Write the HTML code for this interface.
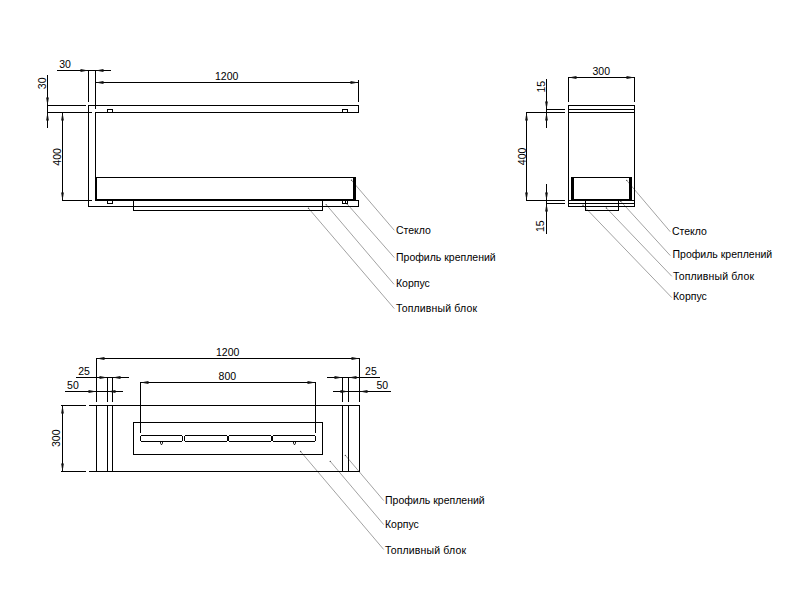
<!DOCTYPE html>
<html><head><meta charset="utf-8"><style>
html,body{margin:0;padding:0;background:#fff;}
svg{display:block;}
rect,circle,polygon{fill:#000;}
rect{shape-rendering:crispEdges;}
rect.slot{fill:none;stroke:#000;stroke-width:1;shape-rendering:auto;}
polygon.a{fill:#111;}
path.mk{fill:none;stroke:#000;stroke-width:0.9;}
line.ld{stroke:#8a8a8a;stroke-width:0.8;}
circle.dot{fill:#555;}
text{font-family:"Liberation Sans",sans-serif;font-size:10.5px;fill:#000;}
</style></head><body>
<svg width="808" height="606" viewBox="0 0 808 606">
<rect x="0" y="0" width="808" height="606" style="fill:#fff"/>
<line class="ld" x1="351.5" y1="180.3" x2="394.3" y2="230.3"/>
<circle class="dot" cx="351.5" cy="180.3" r="0.7"/>
<line class="ld" x1="347.2" y1="204" x2="394.3" y2="257.6"/>
<circle class="dot" cx="347.2" cy="204" r="0.7"/>
<line class="ld" x1="326.2" y1="204.6" x2="394" y2="284.3"/>
<circle class="dot" cx="326.2" cy="204.6" r="0.7"/>
<line class="ld" x1="308.5" y1="208.3" x2="394.3" y2="308.6"/>
<circle class="dot" cx="308.5" cy="208.3" r="0.7"/>
<line class="ld" x1="626.7" y1="180.4" x2="670.3" y2="231.8"/>
<circle class="dot" cx="626.7" cy="180.4" r="0.7"/>
<line class="ld" x1="620.8" y1="201.4" x2="670.3" y2="255.6"/>
<circle class="dot" cx="620.8" cy="201.4" r="0.7"/>
<line class="ld" x1="606.4" y1="208.0" x2="671.8" y2="276.3"/>
<circle class="dot" cx="606.4" cy="208.0" r="0.7"/>
<line class="ld" x1="583" y1="205.3" x2="671.8" y2="297.6"/>
<circle class="dot" cx="583" cy="205.3" r="0.7"/>
<line class="ld" x1="345.4" y1="455.4" x2="383.7" y2="500.6"/>
<circle class="dot" cx="345.4" cy="455.4" r="0.7"/>
<line class="ld" x1="330.3" y1="461.4" x2="383.7" y2="524.6"/>
<circle class="dot" cx="330.3" cy="461.4" r="0.7"/>
<line class="ld" x1="300.6" y1="451.5" x2="383.7" y2="549.5"/>
<circle class="dot" cx="300.6" cy="451.5" r="0.7"/>
<rect x="57" y="70" width="54" height="1"/>
<polygon class="a" points="88.50,70.50 80.50,69.10 80.50,71.90"/>
<polygon class="a" points="95.50,70.50 103.50,69.10 103.50,71.90"/>
<rect x="88" y="70" width="1" height="32"/>
<rect x="95" y="70" width="1" height="39"/>
<rect x="47" y="75" width="1" height="53"/>
<polygon class="a" points="47.50,105.50 46.10,97.50 48.90,97.50"/>
<polygon class="a" points="47.50,112.50 46.10,120.50 48.90,120.50"/>
<rect x="47" y="105" width="39" height="1"/>
<rect x="47" y="112" width="45" height="1"/>
<rect x="95" y="82" width="264" height="1"/>
<polygon class="a" points="95.50,82.50 103.50,81.10 103.50,83.90"/>
<polygon class="a" points="358.50,82.50 350.50,81.10 350.50,83.90"/>
<rect x="358" y="80" width="1" height="22"/>
<rect x="62" y="112" width="1" height="89"/>
<polygon class="a" points="62.50,112.50 61.10,120.50 63.90,120.50"/>
<polygon class="a" points="62.50,200.50 61.10,192.50 63.90,192.50"/>
<rect x="62" y="200" width="30" height="1"/>
<rect x="88" y="105" width="271" height="1"/>
<rect x="88" y="105" width="1" height="102"/>
<rect x="358" y="105" width="1" height="8"/>
<rect x="95" y="112" width="264" height="1"/>
<rect x="95" y="112" width="1" height="89"/>
<rect x="95" y="200" width="264" height="1"/>
<rect x="88" y="206" width="271" height="1"/>
<rect x="358" y="200" width="1" height="7"/>
<rect x="107" y="109" width="6" height="1"/>
<rect x="107" y="109" width="1" height="4"/>
<rect x="112" y="109" width="1" height="4"/>
<rect x="107" y="200" width="1" height="4"/>
<rect x="112" y="200" width="1" height="4"/>
<rect x="107" y="203" width="6" height="1"/>
<rect x="342" y="109" width="6" height="1"/>
<rect x="342" y="109" width="1" height="4"/>
<rect x="347" y="109" width="1" height="4"/>
<rect x="342" y="200" width="1" height="4"/>
<rect x="347" y="200" width="1" height="4"/>
<rect x="342" y="203" width="6" height="1"/>
<rect x="345" y="200" width="1" height="4"/>
<rect x="95" y="177" width="261" height="1"/>
<rect x="95" y="177" width="2" height="24"/>
<rect x="353" y="177" width="3" height="24"/>
<rect x="95" y="199" width="261" height="2"/>
<rect x="133" y="200" width="1" height="11"/>
<rect x="322" y="200" width="1" height="11"/>
<rect x="133" y="210" width="190" height="1"/>
<rect x="568" y="77" width="67" height="1"/>
<polygon class="a" points="568.50,77.50 576.50,76.10 576.50,78.90"/>
<polygon class="a" points="634.50,77.50 626.50,76.10 626.50,78.90"/>
<rect x="568" y="77" width="1" height="25"/>
<rect x="634" y="77" width="1" height="25"/>
<rect x="568" y="105" width="67" height="1"/>
<rect x="568" y="109" width="67" height="1"/>
<rect x="568" y="112" width="67" height="1"/>
<rect x="568" y="105" width="1" height="102"/>
<rect x="634" y="105" width="1" height="102"/>
<rect x="568" y="200" width="67" height="1"/>
<rect x="568" y="203" width="67" height="1"/>
<rect x="568" y="206" width="67" height="1"/>
<rect x="546" y="79" width="1" height="49"/>
<polygon class="a" points="546.50,109.50 545.10,101.50 547.90,101.50"/>
<polygon class="a" points="546.50,112.50 545.10,120.50 547.90,120.50"/>
<rect x="546" y="109" width="19" height="1"/>
<rect x="526" y="112" width="39" height="1"/>
<rect x="526" y="112" width="1" height="89"/>
<polygon class="a" points="526.50,112.50 525.10,120.50 527.90,120.50"/>
<polygon class="a" points="526.50,200.50 525.10,192.50 527.90,192.50"/>
<rect x="526" y="200" width="39" height="1"/>
<rect x="546" y="203" width="19" height="1"/>
<rect x="546" y="184" width="1" height="50"/>
<polygon class="a" points="546.50,200.50 545.10,192.50 547.90,192.50"/>
<polygon class="a" points="546.50,203.50 545.10,211.50 547.90,211.50"/>
<rect x="571" y="177" width="61" height="1"/>
<rect x="571" y="177" width="3" height="24"/>
<rect x="629" y="177" width="3" height="24"/>
<rect x="571" y="199" width="61" height="2"/>
<rect x="585" y="200" width="1" height="11"/>
<rect x="618" y="200" width="1" height="11"/>
<rect x="585" y="210" width="34" height="1"/>
<rect x="96" y="358" width="264" height="1"/>
<polygon class="a" points="96.50,358.50 104.50,357.10 104.50,359.90"/>
<polygon class="a" points="359.50,358.50 351.50,357.10 351.50,359.90"/>
<rect x="96" y="358" width="1" height="44"/>
<rect x="359" y="358" width="1" height="44"/>
<rect x="107" y="377" width="1" height="25"/>
<rect x="112" y="377" width="1" height="25"/>
<rect x="342" y="377" width="1" height="25"/>
<rect x="348" y="377" width="1" height="25"/>
<rect x="76" y="377" width="53" height="1"/>
<polygon class="a" points="107.50,377.50 99.50,376.10 99.50,378.90"/>
<polygon class="a" points="112.50,377.50 120.50,376.10 120.50,378.90"/>
<rect x="65" y="391" width="58" height="1"/>
<polygon class="a" points="96.50,391.50 88.50,390.10 88.50,392.90"/>
<polygon class="a" points="107.50,391.50 115.50,390.10 115.50,392.90"/>
<rect x="327" y="377" width="53" height="1"/>
<polygon class="a" points="342.50,377.50 334.50,376.10 334.50,378.90"/>
<polygon class="a" points="348.50,377.50 356.50,376.10 356.50,378.90"/>
<rect x="333" y="391" width="58" height="1"/>
<polygon class="a" points="348.50,391.50 340.50,390.10 340.50,392.90"/>
<polygon class="a" points="359.50,391.50 367.50,390.10 367.50,392.90"/>
<rect x="140" y="382" width="176" height="1"/>
<polygon class="a" points="140.50,382.50 148.50,381.10 148.50,383.90"/>
<polygon class="a" points="315.50,382.50 307.50,381.10 307.50,383.90"/>
<rect x="140" y="382" width="1" height="51"/>
<rect x="315" y="382" width="1" height="51"/>
<rect x="61" y="405" width="25" height="1"/>
<rect x="89" y="405" width="271" height="1"/>
<rect x="61" y="471" width="25" height="1"/>
<rect x="89" y="471" width="271" height="1"/>
<rect x="96" y="405" width="1" height="67"/>
<rect x="107" y="405" width="1" height="67"/>
<rect x="112" y="405" width="1" height="67"/>
<rect x="342" y="405" width="1" height="67"/>
<rect x="348" y="405" width="1" height="67"/>
<rect x="359" y="405" width="1" height="67"/>
<rect x="62" y="405" width="1" height="67"/>
<polygon class="a" points="62.50,405.50 61.10,413.50 63.90,413.50"/>
<polygon class="a" points="62.50,471.50 61.10,463.50 63.90,463.50"/>
<rect x="133" y="422" width="190" height="1"/>
<rect x="133" y="454" width="190" height="1"/>
<rect x="133" y="422" width="1" height="33"/>
<rect x="322" y="422" width="1" height="33"/>
<rect x="141" y="435" width="41" height="1"/>
<rect x="141" y="441" width="41" height="1"/>
<rect x="140" y="436" width="1" height="5"/>
<rect x="182" y="436" width="1" height="5"/>
<rect x="185" y="435" width="42" height="1"/>
<rect x="185" y="441" width="42" height="1"/>
<rect x="184" y="436" width="1" height="5"/>
<rect x="227" y="436" width="1" height="5"/>
<rect x="229" y="435" width="42" height="1"/>
<rect x="229" y="441" width="42" height="1"/>
<rect x="228" y="436" width="1" height="5"/>
<rect x="271" y="436" width="1" height="5"/>
<rect x="273" y="435" width="42" height="1"/>
<rect x="273" y="441" width="42" height="1"/>
<rect x="272" y="436" width="1" height="5"/>
<rect x="315" y="436" width="1" height="5"/>
<path class="mk" d="M160.5,441.5 V443.3 L161.5,444.8 L162.5,443.3 V441.5"/>
<path class="mk" d="M293.5,441.5 V443.3 L294.5,444.8 L295.5,443.3 V441.5"/>
<text x="396" y="233.8">Стекло</text>
<text x="396" y="260.7">Профиль креплений</text>
<text x="396" y="286.6">Корпус</text>
<text x="396" y="311.5" letter-spacing="0.15">Топливный блок</text>
<text x="59.2" y="67.9">30</text>
<text transform="translate(45.8,89.2) rotate(-90)">30</text>
<text x="215" y="79.8">1200</text>
<text transform="translate(61.3,165.7) rotate(-90)">400</text>
<text x="672" y="234.8">Стекло</text>
<text x="672.5" y="258">Профиль креплений</text>
<text x="673" y="279.8" letter-spacing="0.15">Топливный блок</text>
<text x="673" y="299.6">Корпус</text>
<text x="592.5" y="74.9">300</text>
<text transform="translate(544.8,92.5) rotate(-90)">15</text>
<text transform="translate(525.7,165.2) rotate(-90)">400</text>
<text transform="translate(543.8,232.1) rotate(-90)">15</text>
<text x="385" y="503.9">Профиль креплений</text>
<text x="385" y="527.5">Корпус</text>
<text x="385" y="553.5" letter-spacing="0.15">Топливный блок</text>
<text x="216" y="355.8">1200</text>
<text x="218.6" y="379.6">800</text>
<text x="78.2" y="375.2">25</text>
<text x="67.1" y="388.6">50</text>
<text x="365.1" y="375">25</text>
<text x="376.5" y="388.9">50</text>
<text transform="translate(60.1,447) rotate(-90)">300</text>
</svg></body></html>
